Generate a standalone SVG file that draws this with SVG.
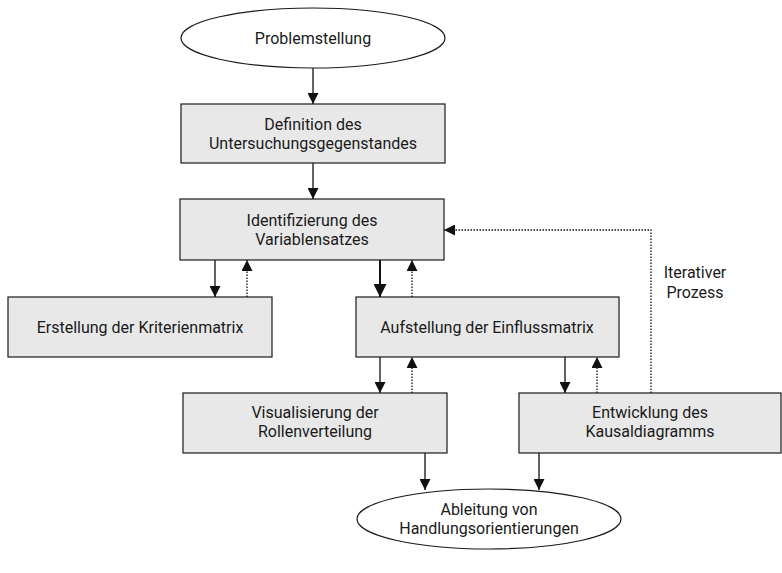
<svg xmlns="http://www.w3.org/2000/svg" width="782" height="573" viewBox="0 0 782 573">
<style>
.box{fill:#e8e8e8;stroke:#1a1a1a;stroke-width:1.2}
.ell{fill:#ffffff;stroke:#1a1a1a;stroke-width:1.2}
text{font-family:Roboto,"Noto Sans","DejaVu Sans",sans-serif;font-size:16px;fill:#1a1a1a;text-anchor:middle}
.s{stroke:#111;stroke-width:1.3;fill:none}
.d{stroke:#111;stroke-width:1.3;fill:none;stroke-dasharray:1.5 1.5}
</style>
<defs>
<marker id="ah" viewBox="0 0 10 10" refX="10" refY="5" markerWidth="11" markerHeight="11" markerUnits="userSpaceOnUse" orient="auto">
<path d="M0,0 L10,5 L0,10 z" fill="#111"/>
</marker>
<marker id="ahb" viewBox="0 0 10 10" refX="10" refY="5" markerWidth="13" markerHeight="13" markerUnits="userSpaceOnUse" orient="auto">
<path d="M0,0 L10,5 L0,10 z" fill="#111"/>
</marker>
</defs>
<rect width="782" height="573" fill="#ffffff"/>
<g id="connectors">
<line class="s" x1="313" y1="68" x2="313" y2="104" marker-end="url(#ah)"/>
<line class="s" x1="313" y1="163" x2="313" y2="199" marker-end="url(#ah)"/>
<line class="s" x1="215" y1="260" x2="215" y2="297" marker-end="url(#ah)"/>
<line class="d" x1="247" y1="297" x2="247" y2="260" marker-end="url(#ah)"/>
<line class="s" style="stroke-width:2" x1="380" y1="260" x2="380" y2="297" marker-end="url(#ahb)"/>
<line class="d" x1="412" y1="297" x2="412" y2="260" marker-end="url(#ah)"/>
<line class="s" x1="380" y1="357" x2="380" y2="393" marker-end="url(#ah)"/>
<line class="d" x1="412" y1="393" x2="412" y2="357" marker-end="url(#ah)"/>
<line class="s" x1="565" y1="357" x2="565" y2="393" marker-end="url(#ah)"/>
<line class="d" x1="597" y1="393" x2="597" y2="357" marker-end="url(#ah)"/>
<polyline class="d" points="651,393 651,230 444,230" marker-end="url(#ah)"/>
<line class="s" x1="425" y1="453" x2="425" y2="490" marker-end="url(#ah)"/>
<line class="s" x1="539" y1="453" x2="539" y2="490" marker-end="url(#ah)"/>
</g>
<g id="n-problem">
<ellipse class="ell" cx="313" cy="38" rx="132" ry="30"/>
<text x="313" y="44">Problemstellung</text>
</g>
<g id="n-definition">
<rect class="box" x="181" y="104" width="264" height="59"/>
<text x="313" y="130">Definition des</text>
<text x="313" y="149">Untersuchungsgegenstandes</text>
</g>
<g id="n-identifizierung">
<rect class="box" x="180" y="199" width="264" height="61"/>
<text x="312" y="226">Identifizierung des</text>
<text x="312" y="245">Variablensatzes</text>
</g>
<g id="n-kriterien">
<rect class="box" x="8" y="297" width="264" height="60"/>
<text x="140" y="333">Erstellung der Kriterienmatrix</text>
</g>
<g id="n-einfluss">
<rect class="box" x="356" y="297" width="263" height="60"/>
<text x="487" y="333">Aufstellung der Einflussmatrix</text>
</g>
<g id="n-visualisierung">
<rect class="box" x="183" y="393" width="264" height="60"/>
<text x="315" y="418">Visualisierung der</text>
<text x="315" y="437">Rollenverteilung</text>
</g>
<g id="n-entwicklung">
<rect class="box" x="519" y="393" width="262" height="60"/>
<text x="650" y="418">Entwicklung des</text>
<text x="650" y="437">Kausaldiagramms</text>
</g>
<g id="n-ableitung">
<ellipse class="ell" cx="489" cy="519" rx="132" ry="30"/>
<text x="489" y="515">Ableitung von</text>
<text x="489" y="534">Handlungsorientierungen</text>
</g>
<g id="label-iterativ">
<text x="695" y="278">Iterativer</text>
<text x="695" y="298">Prozess</text>
</g>
</svg>
